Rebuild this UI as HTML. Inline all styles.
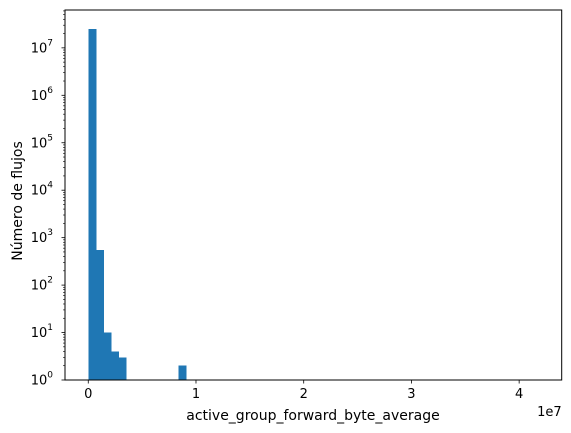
<!DOCTYPE html>
<html><head><meta charset="utf-8"><style>
body{margin:0;background:#fff}
svg{display:block;font-family:"DejaVu Sans","Liberation Sans",sans-serif}
</style></head><body>
<svg id="chart" width="571" height="433"></svg>
<script>
const binStart = 0;
const binWidth = 0.0698e7;
const binIndices = [0, 1, 2, 3, 4, 12];
const binCounts = [2.5e7, 550, 10, 4, 3, 2];
const xTicks = [0, 1, 2, 3, 4];
const yTickExps = [0, 1, 2, 3, 4, 5, 6, 7];

const NS = "http://www.w3.org/2000/svg";
const svg = document.getElementById('chart');
const L = 65, R = 561.7, T = 10, B = 380;
const xMin = -0.216e7, xMax = 4.395e7;
const decade = 47.45;
const xs = v => L + (v - xMin) / (xMax - xMin) * (R - L);
const ys = v => B - Math.log10(v) * decade;
function mk(tag, attrs, parent) {
  const e = document.createElementNS(NS, tag);
  for (const k in attrs) e.setAttribute(k, attrs[k]);
  (parent || svg).appendChild(e);
  return e;
}
const bars = mk('g', {'shape-rendering': 'crispEdges'});


binIndices.forEach((bi, i) => {
  const x0 = xs(binStart + bi * binWidth), x1 = xs(binStart + (bi + 1) * binWidth);
  const y = ys(binCounts[i]);
  const r = mk('rect', {x: x0, y: y, width: x1 - x0 + 0.5, height: B - y, fill: '#1f77b4'}, bars);
  
  
});
const frame = mk('rect', {x: L, y: T, width: R - L, height: B - T, fill: 'none', stroke: '#000', 'stroke-width': 1});


xTicks.forEach(t => {
  const x = xs(t * 1e7);
  mk('line', {x1: x, x2: x, y1: B, y2: B + 3.5, stroke: '#000', 'stroke-width': 0.8});
  const tx = mk('text', {x: x, y: B + 18, 'font-size': 13, 'text-anchor': 'middle'});
  tx.textContent = t;
  
  
});
yTickExps.forEach(e => {
  const y = ys(Math.pow(10, e));
  mk('line', {x1: L - 3.5, x2: L, y1: y, y2: y, stroke: '#000', 'stroke-width': 0.8});
  const tx = mk('text', {x: L - 12, y: y + 4.5, 'font-size': 13, 'text-anchor': 'end'});
  
  
  const a = mk('tspan', {}, tx); a.textContent = '10';
  const b = mk('tspan', {dy: -7, 'font-size': 9}, tx); b.textContent = e;
});
for (let e = 0; e < 8; e++) {
  for (let m = 2; m <= 9; m++) {
    const y = ys(m * Math.pow(10, e));
    if (y < T) break;
    mk('line', {x1: L - 2, x2: L, y1: y, y2: y, stroke: '#000', 'stroke-width': 0.6});
  }
}
const xl = mk('text', {x: 313, y: 420, 'font-size': 14, 'text-anchor': 'middle'});
xl.textContent = 'active_group_forward_byte_average';


const off = mk('text', {x: R, y: 416, 'font-size': 13, 'text-anchor': 'end'});
off.textContent = '1e7';


const yl = mk('text', {x: 0, y: 0, 'font-size': 14, 'text-anchor': 'middle', transform: 'translate(22,' + ((T + B) / 2 + 6) + ') rotate(-90)'});
yl.textContent = 'Número de flujos';


</script>
</body></html>
